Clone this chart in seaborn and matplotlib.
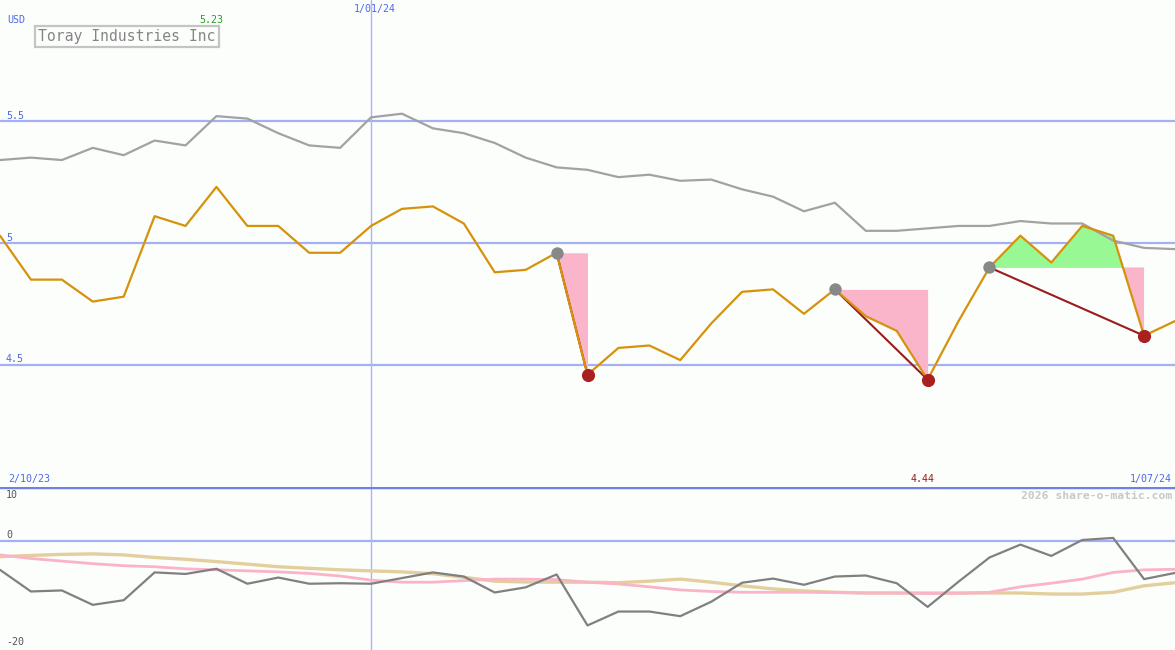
import numpy as np
import pandas as pd
import matplotlib
matplotlib.use("Agg")
import matplotlib.pyplot as plt
import matplotlib.transforms as mtransforms
import seaborn as sns

# price (orange) and its moving average (grey), weekly points
price = [5.03, 4.85, 4.85, 4.76, 4.78, 5.11, 5.07, 5.23, 5.07, 5.07,
         4.96, 4.96, 5.07, 5.14, 5.15, 5.08, 4.88, 4.89, 4.96, 4.46,
         4.57, 4.58, 4.52, 4.67, 4.80, 4.81, 4.71, 4.81, 4.70, 4.64,
         4.44, 4.68, 4.90, 5.03, 4.92, 5.07, 5.03, 4.62, 4.68]
avg = [5.34, 5.35, 5.34, 5.39, 5.36, 5.42, 5.40, 5.52, 5.51, 5.45,
       5.40, 5.39, 5.515, 5.53, 5.47, 5.45, 5.41, 5.35, 5.31, 5.30,
       5.27, 5.28, 5.255, 5.26, 5.22, 5.19, 5.13, 5.165, 5.05, 5.05,
       5.06, 5.07, 5.07, 5.09, 5.08, 5.08, 5.01, 4.98, 4.975]

# lower panel oscillators
momentum = [-5.6, -9.8, -9.6, -12.4, -11.5, -6.1, -6.4, -5.4, -8.3, -7.1,
            -8.3, -8.2, -8.3, -7.2, -6.1, -6.9, -10.0, -9.0, -6.5, -16.4,
            -13.7, -13.7, -14.6, -11.8, -8.1, -7.3, -8.5, -6.9, -6.7, -8.2,
            -12.8, -7.9, -3.2, -0.7, -2.9, 0.2, 0.6, -7.4, -6.2]
signal = [-2.7, -3.4, -3.9, -4.4, -4.8, -5.0, -5.4, -5.6, -5.8, -6.0,
          -6.3, -6.8, -7.6, -8.0, -8.0, -7.7, -7.4, -7.4, -7.5, -8.0,
          -8.35, -8.9, -9.5, -9.8, -9.96, -9.96, -9.96, -10.0, -10.1, -10.1,
          -10.2, -10.15, -9.96, -8.9, -8.2, -7.4, -6.1, -5.6, -5.5]
slow = [-3.05, -2.8, -2.6, -2.5, -2.7, -3.2, -3.55, -4.0, -4.5, -5.0,
        -5.3, -5.6, -5.8, -6.0, -6.35, -7.05, -7.8, -7.96, -8.0, -8.0,
        -8.1, -7.8, -7.4, -8.0, -8.7, -9.3, -9.7, -9.96, -10.1, -10.1,
        -10.1, -10.1, -10.1, -10.1, -10.3, -10.3, -9.96, -8.7, -8.1]

# pattern start / end indices
pat_start = [18, 27, 32]
pat_end = [19, 30, 37]

date_left = "2/10/23"
date_mid = "1/01/24"
date_mid_idx = 12
date_right = "1/07/24"
title = "Toray Industries Inc"

df = pd.DataFrame({"x": np.arange(len(price)), "price": price, "avg": avg,
                   "momentum": momentum, "signal": signal, "slow": slow})

sns.set_style("white")
plt.rcParams['font.family'] = ['DejaVu Sans Mono']

bg = '#fcfefc'
W, H = 1175, 650
fig = plt.figure(figsize=(W / 100, H / 100), dpi=100, facecolor=bg)
split = 163 / H
ax = fig.add_axes([0, split, 1, 1 - split])
ax2 = fig.add_axes([0, 0, 1, split])
n = len(price) - 1
for a in (ax, ax2):
    a.set_facecolor(bg)
    a.set_xlim(0, n)
    for s in a.spines.values():
        s.set_visible(False)
    a.set_xticks([])
    a.set_yticks([])
ax.set_ylim(4.0, 5.996)
ax2.set_ylim(-21.17, 10.49)

grid_c = '#a3b1f3'
for v in (4.5, 5.0, 5.5):
    ax.axhline(v, color=grid_c, lw=1.6, zorder=0)
ax2.axhline(0, color=grid_c, lw=1.6, zorder=0)
ax2.axhline(ax2.get_ylim()[1], color='#6f80e6', lw=2.5, zorder=5)
for a in (ax, ax2):
    a.axvline(date_mid_idx, color='#a8b6f8', lw=1, zorder=0)

# pattern fills
px = df["x"].to_numpy()
pv = df["price"].to_numpy()
for s, e in zip(pat_start, pat_end):
    seg = slice(s, e + 1)
    lvl = np.full(e - s + 1, price[s])
    ax.fill_between(px[seg], pv[seg], lvl, where=pv[seg] <= lvl,
                    interpolate=True, color='#fab5cb', lw=0, zorder=1)
    ax.fill_between(px[seg], pv[seg], lvl, where=pv[seg] >= lvl,
                    interpolate=True, color='#98f894', lw=0, zorder=1)
    ax.plot([s, e], [price[s], price[e]], color='#9a1c1c', lw=1.5, zorder=2)

sns.lineplot(data=df, x="x", y="avg", color='#a2a2a2', lw=1.6, ax=ax, zorder=2)
sns.lineplot(data=df, x="x", y="price", color='#d6920a', lw=1.6, ax=ax, zorder=3)
ax.scatter(pat_start, [price[i] for i in pat_start], s=80, color='#888888',
           zorder=4, lw=0)
ax.scatter(pat_end, [price[i] for i in pat_end], s=90, color='#a82020',
           zorder=4, lw=0)

sns.lineplot(data=df, x="x", y="slow", color='#e3cf9d', lw=2.4, ax=ax2, zorder=2)
sns.lineplot(data=df, x="x", y="signal", color='#fbb3c7', lw=2.0, ax=ax2, zorder=2)
sns.lineplot(data=df, x="x", y="momentum", color='#808080', lw=1.6, ax=ax2, zorder=3)
for a in (ax, ax2):
    a.set_xlabel("")
    a.set_ylabel("")

# texts (figure pixel coordinates, origin top-left)
def fy(y):
    return 1 - y / H

blue = '#5166e8'
fs = 7.2
fig.text(7 / W, fy(20), "USD", color=blue, fontsize=fs, va='center')
for lbl, yy in (("5.5", 116), ("5", 238), ("4.5", 359)):
    fig.text(6 / W, fy(yy), lbl, color=blue, fontsize=fs, va='center')
fig.text(date_mid_idx / n + 4 / W, fy(9), date_mid, color=blue, fontsize=fs,
         va='center', ha='center')
fig.text(8 / W, fy(479), date_left, color=blue, fontsize=fs, va='center')
fig.text(1172 / W, fy(479), date_right, color=blue, fontsize=fs, va='center',
         ha='right')

imax = int(np.argmax(price))
imin = int(np.argmin(price))
off = mtransforms.offset_copy(ax.get_xaxis_transform(), fig=fig, x=-5, y=0,
                              units='dots')
ax.text(imax, 1 - 20 / 487, f"{price[imax]:.2f}", color='#22a022', fontsize=fs,
        ha='center', va='center', transform=off)
ax.text(imin, 1 - 479 / 487, f"{price[imin]:.2f}", color='#a01818', fontsize=fs,
        ha='center', va='center', transform=off)

fig.text(127 / W, fy(36.5), title, color='#858585', fontsize=10.6,
         ha='center', va='center',
         bbox=dict(boxstyle='square,pad=0.22', fc=bg, ec='#c4c4c4', lw=1.6))
fig.text(1172 / W, fy(496), "2026 share-o-matic.com", color='#c8c8c8',
         fontsize=8.2, ha='right', va='center', fontweight='bold')

for lbl, yy in (("10", 495), ("0", 535), ("-20", 642)):
    fig.text(6 / W, fy(yy), lbl, color='#555555', fontsize=fs, va='center')

fig.savefig("out.png", dpi=100, facecolor=bg)
